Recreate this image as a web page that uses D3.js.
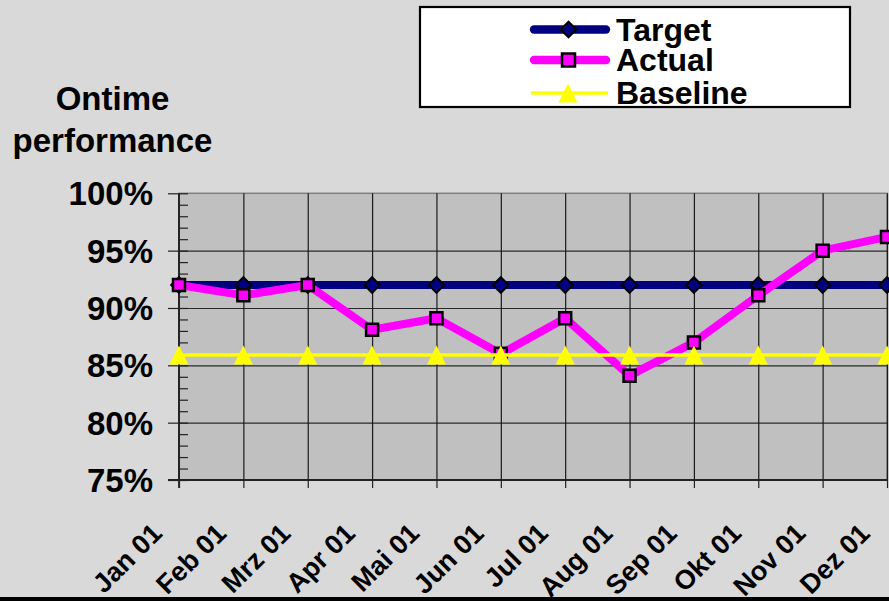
<!DOCTYPE html>
<html>
<head>
<meta charset="utf-8">
<script src="https://cdn.jsdelivr.net/npm/d3@7"></script>
<style>
  html, body { margin: 0; padding: 0; background: #d9d9d9; }
  svg { display: block; font-family: "Liberation Sans", Arial, sans-serif; font-weight: bold; }
</style>
</head>
<body>
<div id="chart"></div>
<script>
// chart data
const months = ['Jan 01', 'Feb 01', 'Mrz 01', 'Apr 01', 'Mai 01', 'Jun 01',
  'Jul 01', 'Aug 01', 'Sep 01', 'Okt 01', 'Nov 01', 'Dez 01'];
const target = [0.92, 0.92, 0.92, 0.92, 0.92, 0.92, 0.92, 0.92, 0.92, 0.92, 0.92, 0.92];
const actual = [0.92, 0.911, 0.92, 0.881, 0.891, 0.86, 0.891, 0.841, 0.87, 0.911, 0.95, 0.962];
const baseline = [0.859, 0.859, 0.859, 0.859, 0.859, 0.859, 0.859, 0.859, 0.859, 0.859, 0.859, 0.859];
const yTicks = [0.75, 0.80, 0.85, 0.90, 0.95, 1.00];
const seriesNames = ['Target', 'Actual', 'Baseline'];
const titleLines = ['Ontime', 'performance'];

const width = 889;
const height = 601;
const plot = {left: 179, right: 887, top: 193.3, bottom: 480};

const svg = d3.select('#chart').append('svg')
  .attr('width', width)
  .attr('height', height);

svg.append('rect')
  .attr('width', width).attr('height', height)
  .attr('fill', '#d9d9d9');

const x = d3.scalePoint().domain(months).range([plot.left, plot.right]);
const y = d3.scaleLinear().domain([0.75, 1]).range([plot.bottom, plot.top]);

// plot area
svg.append('rect')
  .attr('x', plot.left).attr('y', plot.top)
  .attr('width', plot.right - plot.left)
  .attr('height', plot.bottom - plot.top)
  .attr('fill', '#c0c0c0')
  .attr('stroke', '#808080')
  .attr('stroke-width', 1.5);

// gridlines
svg.append('g')
  .attr('transform', `translate(${plot.left},0)`)
  .call(d3.axisLeft(y).tickValues(yTicks.slice(1, -1)).tickSize(-(plot.right - plot.left)).tickFormat(''))
  .call(g => g.select('.domain').remove())
  .call(g => g.selectAll('line').attr('stroke', '#2a2a2a').attr('stroke-width', 1.2));

svg.append('g')
  .attr('transform', `translate(0,${plot.bottom})`)
  .call(d3.axisBottom(x).tickValues(months.slice(1)).tickSize(-(plot.bottom - plot.top)).tickFormat(''))
  .call(g => g.select('.domain').remove())
  .call(g => g.selectAll('line').attr('stroke', '#1a1a1a').attr('stroke-width', 1.2));

// y axis: major ticks outside, minor ticks inside
const yAxis = svg.append('g')
  .attr('transform', `translate(${plot.left},0)`)
  .call(d3.axisLeft(y).tickValues(yTicks).tickSize(11).tickPadding(15).tickFormat(d3.format('.0%')))
  .call(g => g.select('.domain').attr('d', `M0,${plot.top}V${plot.bottom + 8}`).attr('stroke', '#000').attr('stroke-width', 1.5))
  .call(g => g.selectAll('.tick line').attr('stroke', '#222').attr('stroke-width', 1.2));

yAxis.selectAll('.tick text')
  .attr('fill', '#000')
  .attr('font-size', 33)
  .attr('font-family', '"Liberation Sans", Arial, sans-serif')
  .attr('dy', 11.5);

svg.append('g')
  .attr('transform', `translate(${plot.left},0)`)
  .call(d3.axisRight(y).ticks(25).tickSize(9).tickFormat(''))
  .call(g => g.select('.domain').remove())
  .call(g => g.selectAll('.tick line').attr('stroke', '#222').attr('stroke-width', 1.2));

// x axis
const xAxis = svg.append('g')
  .attr('transform', `translate(0,${plot.bottom})`)
  .call(d3.axisBottom(x).tickSize(8).tickFormat(''))
  .call(g => g.select('.domain').attr('d', `M${plot.left - 11},0H${plot.right}`).attr('stroke', '#222').attr('stroke-width', 2))
  .call(g => g.selectAll('.tick line').attr('stroke', '#222').attr('stroke-width', 1.2));

xAxis.selectAll('.tick')
  .append('text')
  .attr('fill', '#000')
  .attr('font-size', 27)
  .attr('font-family', '"Liberation Sans", Arial, sans-serif')
  .attr('text-anchor', 'end')
  .attr('transform', 'translate(-16,55) rotate(-45)')
  .text(d => d);

// series
const diamond = d3.symbol(d3.symbolSquare, 121);
const square = d3.symbol(d3.symbolSquare, 144);
const triangleType = {
  draw(ctx, size) {
    const w = Math.sqrt(size);
    ctx.moveTo(0, -w / 2);
    ctx.lineTo(w / 2, w / 2);
    ctx.lineTo(-w / 2, w / 2);
    ctx.closePath();
  }
};
const triangle = d3.symbol(triangleType, 361);

const line = d3.line()
  .x((d, i) => x(months[i]))
  .y(d => y(d));

svg.append('path')
  .datum(target)
  .attr('d', line)
  .attr('fill', 'none')
  .attr('stroke', '#000080')
  .attr('stroke-width', 8);

svg.append('g').selectAll('path')
  .data(target)
  .join('path')
  .attr('d', diamond)
  .attr('transform', (d, i) => `translate(${x(months[i])},${y(d)}) rotate(45)`)
  .attr('fill', '#000080')
  .attr('stroke', '#000')
  .attr('stroke-width', 2);

svg.append('path')
  .datum(actual)
  .attr('d', line)
  .attr('fill', 'none')
  .attr('stroke', '#ff00ff')
  .attr('stroke-width', 8)
  .attr('stroke-linejoin', 'round');

svg.append('g').selectAll('path')
  .data(actual)
  .join('path')
  .attr('d', square)
  .attr('transform', (d, i) => `translate(${x(months[i])},${y(d)})`)
  .attr('fill', '#ff00ff')
  .attr('stroke', '#000')
  .attr('stroke-width', 2.5);

svg.append('path')
  .datum(baseline)
  .attr('d', line)
  .attr('fill', 'none')
  .attr('stroke', '#ffff00')
  .attr('stroke-width', 3.3);

svg.append('g').selectAll('path')
  .data(baseline)
  .join('path')
  .attr('d', triangle)
  .attr('transform', (d, i) => `translate(${x(months[i])},${y(d)})`)
  .attr('fill', '#ffff00');

// axis title
svg.append('g').selectAll('text')
  .data(titleLines)
  .join('text')
  .attr('x', 112.5)
  .attr('y', (d, i) => 110 + i * 42)
  .attr('text-anchor', 'middle')
  .attr('font-size', 33)
  .attr('fill', '#000')
  .text(d => d);

// legend
const legend = svg.append('g');
legend.append('rect')
  .attr('x', 420).attr('y', 7)
  .attr('width', 430).attr('height', 100)
  .attr('fill', '#fff')
  .attr('stroke', '#000')
  .attr('stroke-width', 2.2);

const legendRows = [29.5, 60, 93];
const legendItems = legend.selectAll('g.item')
  .data(seriesNames)
  .join('g')
  .attr('class', 'item')
  .attr('transform', (d, i) => `translate(0,${legendRows[i]})`);

legendItems.append('line')
  .attr('x1', (d, i) => i < 2 ? 534 : 531)
  .attr('x2', (d, i) => i < 2 ? 606 : 608)
  .attr('stroke', (d, i) => ['#000080', '#ff00ff', '#ffff00'][i])
  .attr('stroke-width', (d, i) => i < 2 ? 8.3 : 3.3)
  .attr('stroke-linecap', (d, i) => i < 2 ? 'round' : 'butt');

legendItems.append('path')
  .attr('d', (d, i) => [diamond, d3.symbol(d3.symbolSquare, 169), triangle][i]())
  .attr('transform', (d, i) => `translate(${i === 2 ? 568 : 568.5},0)` + (i === 0 ? ' rotate(45)' : ''))
  .attr('fill', (d, i) => ['#000080', '#ff00ff', '#ffff00'][i])
  .attr('stroke', (d, i) => i < 2 ? '#000' : 'none')
  .attr('stroke-width', (d, i) => i === 0 ? 2 : 2.5);

legendItems.append('text')
  .attr('x', 616)
  .attr('y', 11)
  .attr('font-size', 32)
  .attr('fill', '#000')
  .text(d => d);

// bottom border
svg.append('rect')
  .attr('x', 0).attr('y', 597)
  .attr('width', width).attr('height', 4)
  .attr('fill', '#000');
</script>
</body>
</html>
